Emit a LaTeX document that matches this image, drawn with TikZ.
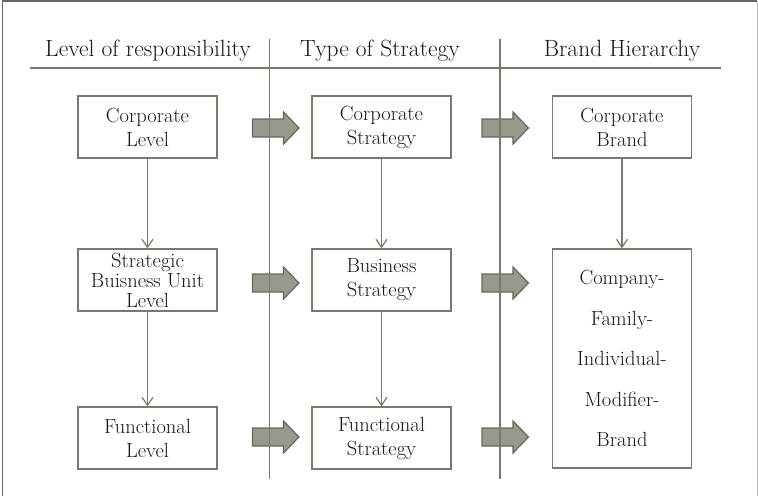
\documentclass[tikz,border=0pt]{standalone}
\usetikzlibrary{arrows.meta}
\definecolor{rulegray}{RGB}{122,121,108}
\definecolor{arrowfill}{RGB}{154,152,140}
\definecolor{arrowline}{RGB}{104,103,92}
\definecolor{inkgray}{RGB}{22,22,20}
\tikzset{
  box/.style={draw=rulegray, line width=1.4pt, minimum width=139pt, minimum height=62pt,
    inner sep=0pt, align=center, text=inkgray, font=\fontsize{20.5}{24}\selectfont},
  head/.style={text=inkgray, font=\fontsize{23.5}{27}\selectfont, inner sep=0pt},
  down/.style={draw=rulegray, line width=1.2pt, -{Straight Barb[length=8pt,width=11pt]}},
  blockarr/.style={draw=arrowline, fill=arrowfill, line width=1.2pt, line join=miter}
}
\begin{document}
\begin{tikzpicture}[x=1pt,y=-1pt]
  \useasboundingbox (0,0) rectangle (758,496);
  % frame
  \draw[gray!80!black, line width=1.5pt] (2.5,496) -- (2.5,1) -- (757,1);
  \draw[gray!50, line width=1pt] (757,1) -- (757,496);

  % column heads
  \node[head] (h1) at (148,51) {Level of responsibility};
  \node[head] (h2) at (380,51) {Type of Strategy};
  \node[head] (h3) at (622,51) {Brand Hierarchy};

  % boxes
  \draw
    (147.5,127) node[box] (cl) {Corporate\\Level}
    (147.5,280) node[box, font=\fontsize{20.5}{20}\selectfont] (sbu) {Strategic\\Buisness Unit\\Level}
    (147.5,438) node[box] (fl) {Functional\\Level}
    (381.5,127) node[box] (cs) {Corporate\\Strategy}
    (381.5,280) node[box] (bs) {Business\\Strategy}
    (381.5,438) node[box] (fs) {Functional\\Strategy}
    (622,127) node[box] (cb) {Corporate\\Brand}
    (622,358.5) node[box, minimum height=219pt, font=\fontsize{20.5}{40.5}\selectfont] (hier)
      {Company-\\Family-\\Individual-\\Modifier-\\Brand};

  % block arrows between the columns
  \foreach \y in {128,283,437}
    \foreach \x in {275.5,505}
      \draw[blockarr, shift={(\x,\y)}] (-23,-9) -- (8,-9) -- (8,-16) -- (23.5,0)
        -- (8,16) -- (8,9) -- (-23,9) -- cycle;

  % rules
  \coordinate (r1) at (30,68);
  \coordinate (r2) at (721,68);
  \coordinate (v1t) at (269.5,39);
  \coordinate (v1b) at (269.5,479);
  \coordinate (v2t) at (500,39);
  \coordinate (v2b) at (500,479);
  \begin{scope}[rulegray, line width=1.4pt]
    \draw (r1) -- (r2);
    \draw (v1t) -- (v1b);
    \draw (v2t) -- (v2b);
  \end{scope}

  % levels
  \begin{scope}[down]
    \draw (cl) -- (sbu);
    \draw (sbu) -- (fl);
    \draw (cs) -- (bs);
    \draw (bs) -- (fs);
    \draw (cb) -- (hier);
  \end{scope}
\end{tikzpicture}
\end{document}
